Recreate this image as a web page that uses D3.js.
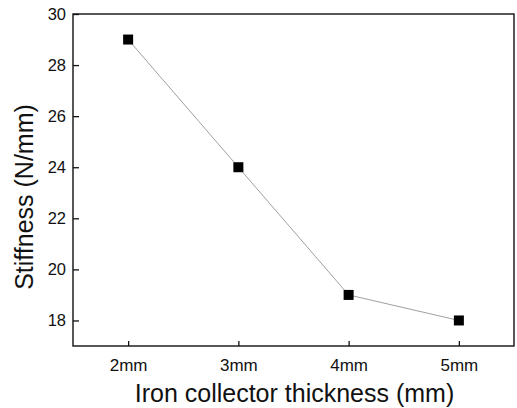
<!DOCTYPE html>
<html>
<head>
<meta charset="utf-8">
<script src="https://cdn.jsdelivr.net/npm/d3@7"></script>
<style>
  body { margin: 0; background: #fff; }
  svg { display: block; font-family: "Liberation Sans", Arial, sans-serif; }
</style>
</head>
<body>
<div id="chart"></div>
<script>
"use strict";

const thickness = [2, 3, 4, 5];
const tickLabels = ["2mm", "3mm", "4mm", "5mm"];
const stiffness = [29, 24, 19, 18];
const yTicks = [18, 20, 22, 24, 26, 28, 30];

const WIDTH = 517;
const HEIGHT = 408;
const margin = { top: 14, right: 3, bottom: 62, left: 73 };

const svg = d3.select("#chart").append("svg").attr("width", WIDTH).attr("height", HEIGHT);

const xScale = d3.scaleLinear().domain([1.5, 5.5]).range([margin.left, WIDTH - margin.right]);
const yScale = d3.scaleLinear().domain([17, 30]).range([HEIGHT - margin.bottom, margin.top]);

const data = thickness.map((t, i) => ({ x: t, y: stiffness[i] }));

// Axes with inward ticks
const xAxis = svg
  .append("g")
  .attr("transform", `translate(0, ${HEIGHT - margin.bottom})`)
  .call(
    d3.axisBottom(xScale)
      .tickValues(thickness)
      .tickFormat((d, i) => tickLabels[i])
      .tickSizeInner(-5)
      .tickSizeOuter(0)
      .tickPadding(13)
  );

const yAxis = svg
  .append("g")
  .attr("transform", `translate(${margin.left}, 0)`)
  .call(d3.axisRight(yScale).tickValues(yTicks).tickSizeInner(6).tickSizeOuter(0));

[xAxis, yAxis].forEach((g) => {
  g.select(".domain").remove();
  g.selectAll(".tick line").attr("stroke", "#111").attr("stroke-width", 1.3);
  g.selectAll(".tick text").attr("fill", "#111");
});
xAxis.selectAll(".tick text").attr("font-size", 17);
yAxis.selectAll(".tick text").attr("font-size", 16.5).attr("text-anchor", "end").attr("x", -7);

// Frame
svg
  .append("rect")
  .attr("x", margin.left)
  .attr("y", margin.top)
  .attr("width", WIDTH - margin.right - margin.left)
  .attr("height", HEIGHT - margin.bottom - margin.top)
  .attr("fill", "none")
  .attr("stroke", "#111")
  .attr("stroke-width", 1.4);

// Line
const lineGenerator = d3
  .line()
  .x((d) => xScale(d.x))
  .y((d) => yScale(d.y));
svg
  .append("path")
  .datum(data)
  .attr("d", lineGenerator)
  .attr("fill", "none")
  .attr("stroke", "#a0a0a0")
  .attr("stroke-width", 1);

// Square markers
const MARK = 10;
svg
  .selectAll("rect.mark")
  .data(data)
  .enter()
  .append("rect")
  .attr("class", "mark")
  .attr("x", (d) => xScale(d.x) - MARK / 2)
  .attr("y", (d) => yScale(d.y) - MARK / 2)
  .attr("width", MARK)
  .attr("height", MARK)
  .attr("fill", "#000");

// Axis titles
svg
  .append("text")
  .attr("x", (margin.left + WIDTH - margin.right) / 2 + 1)
  .attr("y", 402)
  .attr("text-anchor", "middle")
  .attr("font-size", 25)
  .attr("fill", "#111")
  .text("Iron collector thickness (mm)");

svg
  .append("text")
  .attr("transform", "translate(33, 197) rotate(-90)")
  .attr("text-anchor", "middle")
  .attr("font-size", 25)
  .attr("fill", "#111")
  .text("Stiffness (N/mm)");
</script>
</body>
</html>
